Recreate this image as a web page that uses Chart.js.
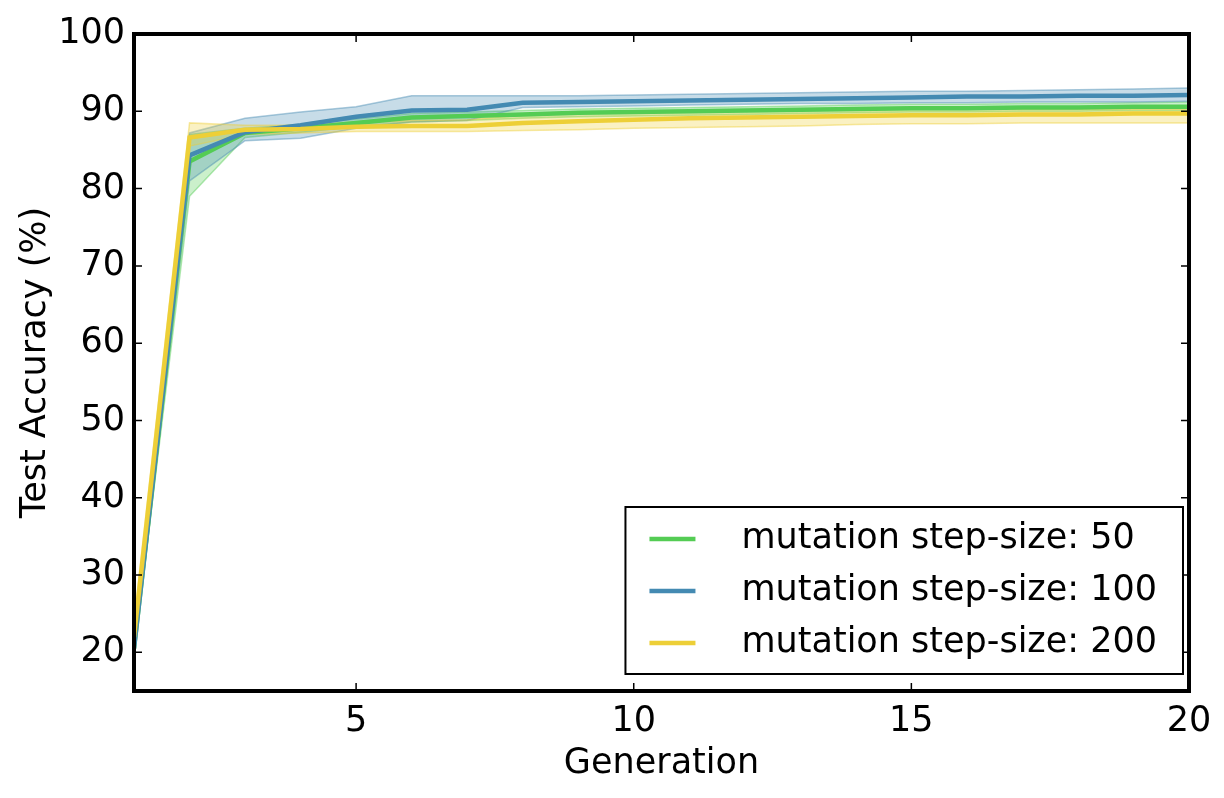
<!DOCTYPE html>
<html>
<head>
<meta charset="utf-8">
<script src="https://cdn.jsdelivr.net/npm/chart.js@4/dist/chart.umd.min.js"></script>
<style>
  html, body { margin: 0; padding: 0; background: #fff; }
  canvas { display: block; }
</style>
</head>
<body>
<canvas id="chart" width="1224" height="798"></canvas>
<script>
// Generations on the x axis.
const generations = [1, 2, 3, 4, 5, 6, 7, 8, 9, 10, 11, 12, 13, 14, 15, 16, 17, 18, 19, 20];

// mutation step-size: 50
const mean50 = [20.5, 83.5, 87.2, 87.8, 88.5, 89.2, 89.4, 89.6, 89.8, 89.9, 90.0, 90.1, 90.2, 90.3, 90.4, 90.4, 90.5, 90.5, 90.6, 90.6];
const low50  = [20.0, 79.0, 86.6, 87.3, 88.0, 88.6, 88.8, 89.1, 89.3, 89.4, 89.5, 89.6, 89.7, 89.8, 89.9, 89.9, 90.0, 90.0, 90.1, 90.1];
const high50 = [21.0, 87.0, 87.8, 88.3, 89.0, 89.7, 89.9, 90.1, 90.3, 90.4, 90.5, 90.6, 90.7, 90.8, 90.9, 90.9, 91.0, 91.0, 91.1, 91.2];

// mutation step-size: 100
const mean100 = [20.5, 84.3, 87.3, 88.2, 89.3, 90.1, 90.2, 91.1, 91.2, 91.3, 91.4, 91.5, 91.6, 91.7, 91.8, 91.9, 91.9, 92.0, 92.0, 92.1];
const low100  = [20.0, 81.0, 86.2, 86.5, 87.8, 88.6, 88.8, 90.5, 90.6, 90.7, 90.8, 90.9, 91.0, 91.0, 91.1, 91.1, 91.2, 91.2, 91.2, 91.3];
const high100 = [21.0, 87.2, 89.1, 89.9, 90.6, 92.0, 92.0, 92.0, 92.0, 92.1, 92.2, 92.3, 92.4, 92.5, 92.6, 92.6, 92.7, 92.8, 92.9, 93.0];

// mutation step-size: 200
const mean200 = [22.0, 86.6, 87.6, 87.7, 88.0, 88.1, 88.1, 88.5, 88.7, 88.9, 89.1, 89.2, 89.3, 89.4, 89.5, 89.5, 89.6, 89.6, 89.7, 89.7];
const low200  = [20.5, 85.5, 87.0, 87.2, 87.4, 87.4, 87.4, 87.5, 87.6, 87.8, 87.9, 88.0, 88.1, 88.3, 88.4, 88.4, 88.5, 88.5, 88.5, 88.5];
const high200 = [24.0, 88.5, 88.2, 88.2, 88.6, 88.8, 88.9, 89.5, 89.7, 89.9, 90.0, 90.1, 90.2, 90.2, 90.3, 90.3, 90.3, 90.3, 90.3, 90.3];

const seriesLabels = ['mutation step-size: 50', 'mutation step-size: 100', 'mutation step-size: 200'];
const xTickValues = [5, 10, 15, 20];
const yTickValues = [20, 30, 40, 50, 60, 70, 80, 90, 100];

const colors = ['rgb(84, 204, 84)', 'rgb(68, 138, 178)', 'rgb(237, 207, 55)'];
const fills = ['rgba(84, 204, 84, 0.3)', 'rgba(68, 138, 178, 0.3)', 'rgba(237, 207, 55, 0.3)'];
const edges = ['rgba(84, 204, 84, 0.45)', 'rgba(68, 138, 178, 0.45)', 'rgba(237, 207, 55, 0.45)'];

const FONT = "'DejaVu Sans', sans-serif";
const FONT_SIZE = 35;

function toPoints(values) {
  return generations.map((g, i) => ({ x: g, y: values[i] }));
}

function bandPair(low, high, idx, order) {
  return [
    { data: toPoints(low), borderColor: edges[idx], borderWidth: 1.5, pointRadius: 0, fill: false, order: order },
    { data: toPoints(high), borderColor: edges[idx], borderWidth: 1.5, pointRadius: 0, backgroundColor: fills[idx], fill: '-1', order: order }
  ];
}

function meanLine(values, idx, order) {
  return { label: seriesLabels[idx], data: toPoints(values), borderColor: colors[idx], borderWidth: 4.5, pointRadius: 0, fill: false, order: order };
}

// Frame, inward ticks on all four sides, and the legend box.
const framePlugin = {
  id: 'frame',
  afterDraw(chart) {
    const ctx = chart.ctx;
    const area = chart.chartArea;
    const xs = chart.scales.x;
    const ys = chart.scales.y;
    ctx.save();
    ctx.strokeStyle = '#000';
    ctx.lineWidth = 1.5;
    const tickLen = 8;
    xTickValues.forEach((v) => {
      const px = xs.getPixelForValue(v);
      ctx.beginPath();
      ctx.moveTo(px, area.bottom); ctx.lineTo(px, area.bottom - tickLen);
      ctx.moveTo(px, area.top); ctx.lineTo(px, area.top + tickLen);
      ctx.stroke();
    });
    yTickValues.forEach((v) => {
      const py = ys.getPixelForValue(v);
      ctx.beginPath();
      ctx.moveTo(area.left, py); ctx.lineTo(area.left + tickLen, py);
      ctx.moveTo(area.right, py); ctx.lineTo(area.right - tickLen, py);
      ctx.stroke();
    });
    ctx.lineWidth = 4;
    ctx.strokeRect(area.left, area.top, area.right - area.left, area.bottom - area.top);

    // legend
    ctx.font = FONT_SIZE + 'px ' + FONT;
    const textW = Math.max(...seriesLabels.map((t) => ctx.measureText(t).width));
    const boxW = 116 + textW + 26;
    const rowH = 52;
    const boxH = 32 + rowH * 2 + 31;
    const boxRight = area.right - 6;
    const boxBottom = area.bottom - 17;
    const boxLeft = boxRight - boxW;
    const boxTop = boxBottom - boxH;
    ctx.fillStyle = '#fff';
    ctx.fillRect(boxLeft, boxTop, boxW, boxH);
    ctx.lineWidth = 2;
    ctx.strokeRect(boxLeft, boxTop, boxW, boxH);
    ctx.textBaseline = 'middle';
    ctx.textAlign = 'left';
    seriesLabels.forEach((label, i) => {
      const cy = boxTop + 32 + i * rowH;
      ctx.strokeStyle = colors[i];
      ctx.lineWidth = 4.5;
      ctx.beginPath();
      ctx.moveTo(boxLeft + 24, cy); ctx.lineTo(boxLeft + 70, cy);
      ctx.stroke();
      ctx.fillStyle = '#000';
      ctx.fillText(label, boxLeft + 116, cy);
    });
    ctx.restore();
  }
};

const ctx = document.getElementById('chart').getContext('2d');
const chart = new Chart(ctx, {
  type: 'line',
  data: {
    datasets: [
      ...bandPair(low50, high50, 0, 8),
      ...bandPair(low100, high100, 1, 7),
      ...bandPair(low200, high200, 2, 6),
      meanLine(mean50, 0, 2),
      meanLine(mean100, 1, 1),
      meanLine(mean200, 2, 0)
    ]
  },
  options: {
    responsive: false,
    animation: false,
    devicePixelRatio: 1,
    layout: { padding: { left: 0, right: 35, top: 34, bottom: 0 } },
    plugins: {
      legend: { display: false },
      tooltip: { enabled: false }
    },
    elements: { line: { tension: 0 } },
    scales: {
      x: {
        type: 'linear',
        min: 1,
        max: 20,
        grid: { display: false, drawTicks: false, tickLength: 0 },
        border: { display: false },
        afterBuildTicks: (scale) => { scale.ticks = xTickValues.map((v) => ({ value: v })); },
        afterFit: (scale) => { scale.height = 107; },
        ticks: { color: '#000', padding: 10, maxRotation: 0, font: { family: FONT, size: FONT_SIZE } },
        title: { display: true, text: 'Generation', color: '#000', padding: { top: 0, bottom: 13 }, font: { family: FONT, size: FONT_SIZE } }
      },
      y: {
        min: 15,
        max: 100,
        grid: { display: false, drawTicks: false, tickLength: 0 },
        border: { display: false },
        afterBuildTicks: (scale) => { scale.ticks = yTickValues.map((v) => ({ value: v })); },
        afterFit: (scale) => { scale.width = 134; },
        ticks: { color: '#000', padding: 9, font: { family: FONT, size: FONT_SIZE } },
        title: { display: true, text: 'Test Accuracy (%)', color: '#000', padding: { top: 15, bottom: 0 }, font: { family: FONT, size: FONT_SIZE } }
      }
    }
  },
  plugins: [framePlugin]
});
</script>
</body>
</html>
